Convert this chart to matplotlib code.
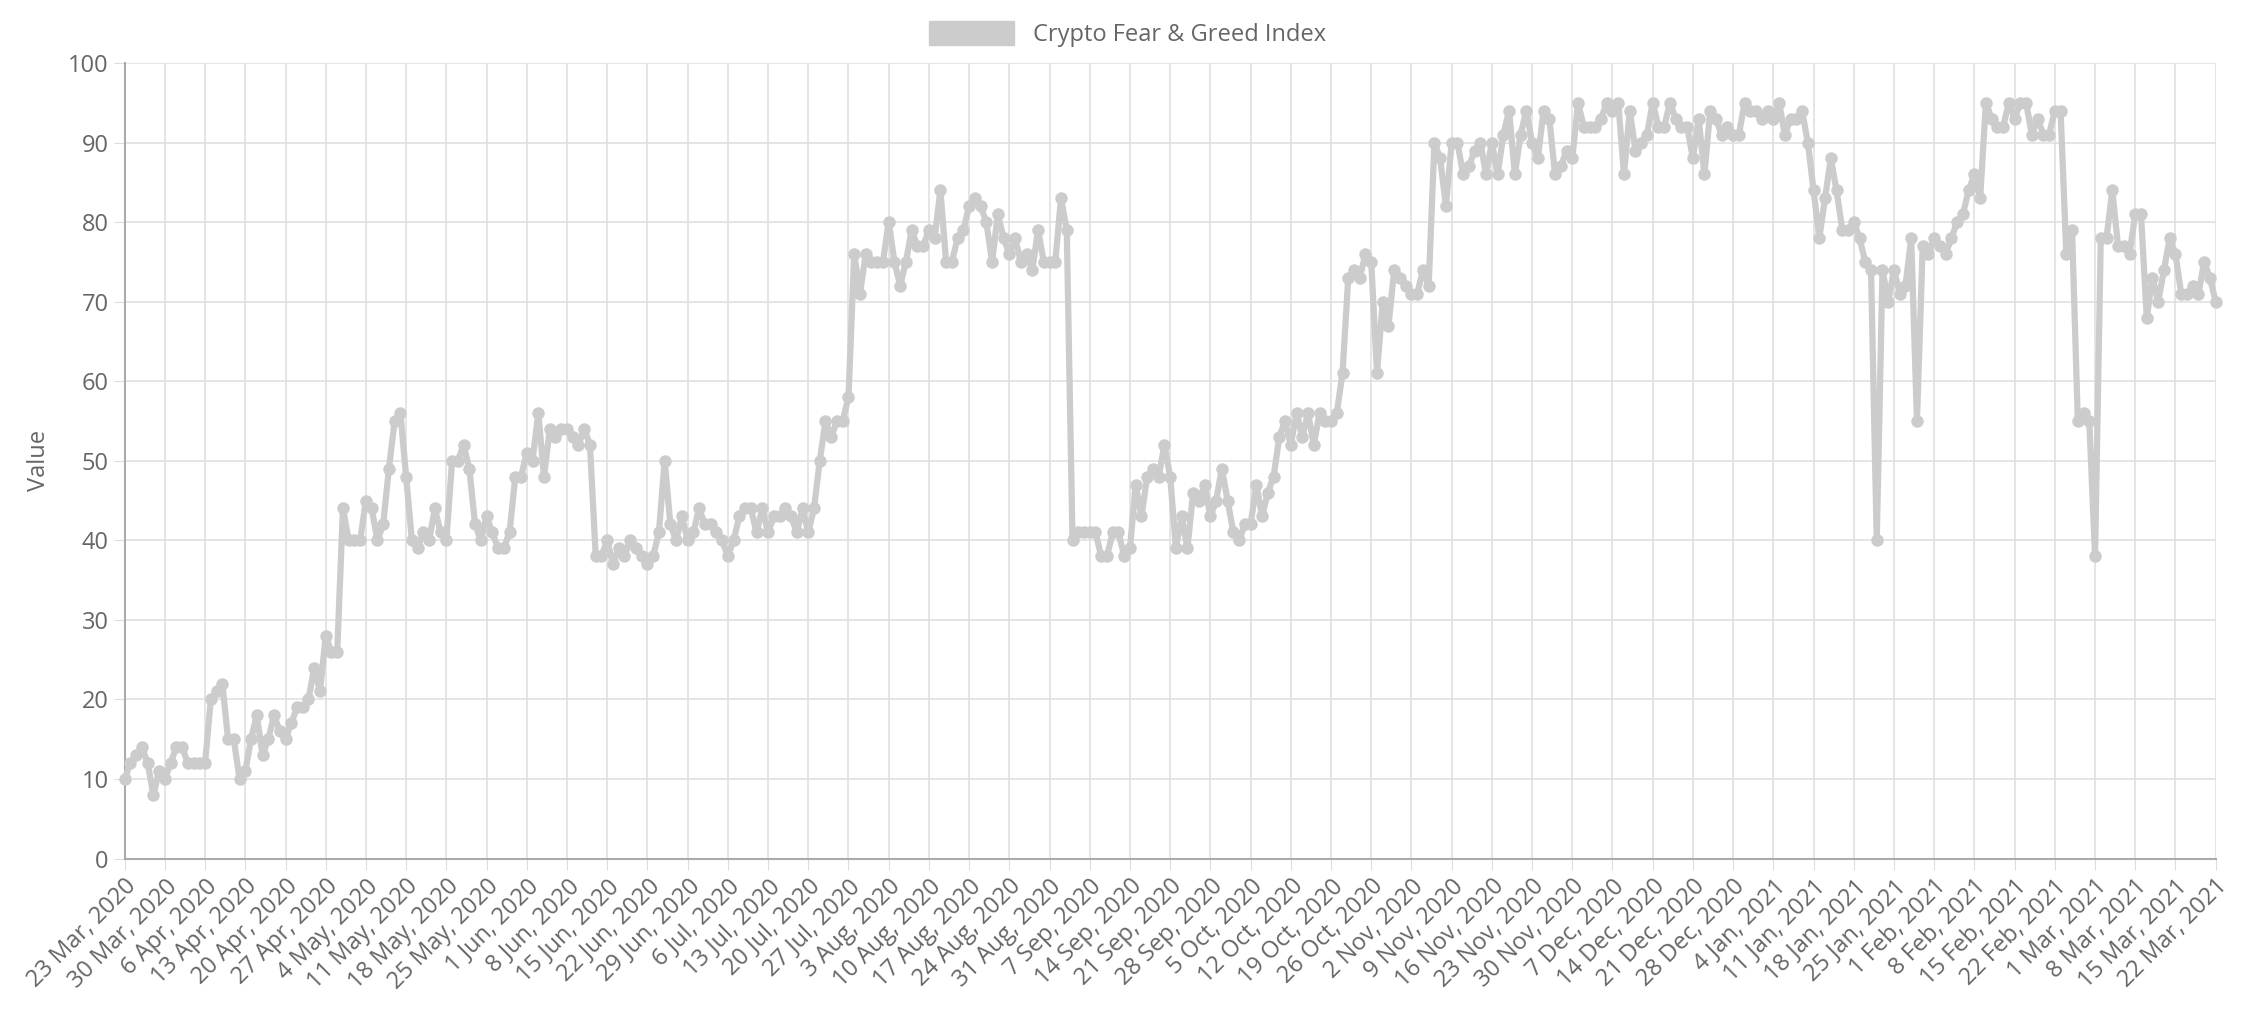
import numpy as np
import pandas as pd
import matplotlib.pyplot as plt
import matplotlib.dates as mdates
from matplotlib.patches import Patch

# valeurs quotidiennes, groupées à peu près par semaine (à partir du 23 mars 2020)
weeks = [
    [10, 12, 13, 14, 12, 8, 11],
    [10, 12, 14, 14, 12, 12],
    [12, 12, 20, 21, 22, 15, 15],
    [10, 11, 15, 18, 13, 15, 18],
    [16, 15, 17, 19, 19, 20, 24],
    [21, 28, 26, 26, 44, 40, 40],
    [40, 45, 44, 40, 42, 49, 55],
    [56, 48, 40, 39, 41, 40, 44],
    [41, 40, 50, 50, 52, 49, 42],
    [40, 43, 41, 39, 39, 41, 48],
    [48, 51, 50, 56, 48, 54, 53],
    [54, 54, 53, 52, 54, 52, 38],
    [38, 40, 37, 39, 38, 40, 39],
    [38, 37, 38, 41, 50, 42, 40],
    [43, 40, 41, 44, 42, 42, 41],
    [40, 38, 40, 43, 44, 44, 41],
    [44, 41, 43, 43, 44, 43, 41],
    [44, 41, 44, 50, 55, 53],
    [55, 55, 58, 76, 71, 76, 75],
    [75, 75, 80, 75, 72, 75, 79],
    [77, 77, 79, 78, 84, 75, 75],
    [78, 79, 82, 83, 82, 80, 75],
    [81, 78, 76, 78, 75, 76],
    [74, 79, 75, 75, 75, 83, 79],
    [40, 41, 41, 41, 41, 38, 38],
    [41, 41, 38, 39, 47, 43, 48],
    [49, 48, 52, 48, 39, 43, 39],
    [46, 45, 47, 43, 45, 49, 45],
    [41, 40, 42, 42, 47, 43, 46],
    [48, 53, 55, 52, 56, 53, 56],
    [52, 56, 55, 55, 56, 61, 73],
    [74, 73, 76, 75, 61, 70, 67],
    [74, 73, 72, 71, 71, 74, 72],
    [90, 88, 82, 90, 90, 86, 87],
    [89, 90, 86, 90, 86, 91, 94],
    [86, 91, 94, 90, 88, 94, 93],
    [86, 87, 89, 88, 95, 92, 92],
    [92, 93, 95, 94, 95, 86, 94],
    [89, 90, 91, 95, 92, 92, 95],
    [93, 92, 92, 88, 93, 86, 94],
    [93, 91, 92, 91, 91, 95, 94],
    [94, 93, 94, 93, 95, 91, 93],
    [93, 94, 90, 84, 78, 83, 88],
    [84, 79, 79, 80, 78, 75, 74],
    [40, 74, 70, 74, 71, 72, 78],
    [55, 77, 76, 78, 77, 76, 78],
    [80, 81, 84, 86, 83, 95],
    [93, 92, 92, 95, 93, 95, 95],
    [91, 93, 91, 91, 94, 94, 76],
    [79, 55, 56, 55, 38, 78, 78],
    [84, 77, 77, 76, 81, 81, 68],
    [73, 70, 74, 78, 76, 71, 71, 72, 71, 75, 73],
    [70],
]
values = [v for w in weeks for v in w]
dates = pd.date_range('2020-03-23', periods=len(values), freq='D')

grey = '#666666'
plt.rcParams['font.family'] = ['Open Sans', 'DejaVu Sans']

fig = plt.figure(figsize=(22.46, 10.16), dpi=100)
ax = fig.add_axes([0.0555, 0.155, 0.931, 0.783])

ax.plot(dates, values, color='#cccccc', lw=4.5, marker='o', ms=9,
        markeredgewidth=0, zorder=3, clip_on=False)

ax.set_ylim(0, 100)
ax.set_yticks(range(0, 101, 10))
ax.set_xlim(pd.Timestamp('2020-03-23'), pd.Timestamp('2021-03-22'))
ticks = pd.date_range('2020-03-23', '2021-03-22', freq='7D')
ax.set_xticks(ticks)
ax.set_xticklabels([f"{d.day} {d.strftime('%b')}, {d.year}" for d in ticks],
                   rotation=45, ha='right', rotation_mode='anchor')
ax.tick_params(colors=grey, labelsize=17, length=8, color='#dddddd')
ax.grid(True, color='#e0e0e0', lw=1.2)
for s in ['top', 'right']:
    ax.spines[s].set_visible(False)
for s in ['left', 'bottom']:
    ax.spines[s].set_color('#aaaaaa')
    ax.spines[s].set_linewidth(1.5)
ax.set_ylabel('Value', color=grey, fontsize=17, labelpad=12)

fig.legend(handles=[Patch(facecolor='#cccccc', edgecolor='#cccccc')],
           labels=['Crypto Fear & Greed Index'], loc='upper center',
           bbox_to_anchor=(0.502, 1.0), frameon=False, fontsize=17,
           handlelength=3.6, handleheight=1.2, labelcolor=grey)

fig.savefig('out.png', dpi=100)
